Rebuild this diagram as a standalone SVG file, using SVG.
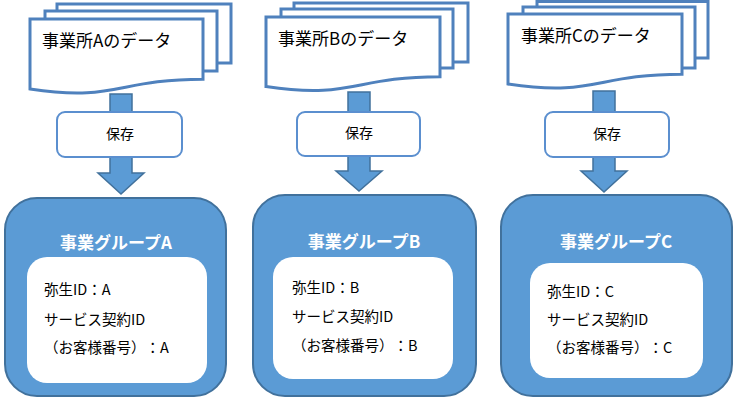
<svg xmlns="http://www.w3.org/2000/svg" width="735" height="400" viewBox="0 0 735 400">
<style>
  .page { fill: #ffffff; stroke: #4f81bd; stroke-width: 3; }
  .save { fill: #ffffff; stroke: #5b8fcf; stroke-width: 2; }
  .arrow { fill: #5b9bd5; stroke: #41719c; stroke-width: 1.5; }
  .group { fill: #5b9bd5; stroke: #41719c; stroke-width: 2; }
  .inner { fill: #ffffff; }
  text { font-family: "Noto Sans CJK JP", "Noto Sans", sans-serif; fill: #000000; text-spacing-trim: space-all; }
  .doc { font-size: 17px; }
  .lbl { font-size: 14px; text-anchor: middle; }
  .title { font-size: 17px; font-weight: bold; fill: #ffffff; text-anchor: middle; }
  .item { font-size: 14.5px; }
</style>
<rect width="735" height="400" fill="#ffffff"/>

<g id="connectors">
  <path class="arrow" d="M110,94 H132 V173 H144 L121,194 L98,173 H110 Z"/>
  <path class="arrow" d="M348,92 H370 V171 H382 L359,191 L336,171 H348 Z"/>
  <path class="arrow" d="M593,91 H615 V171 H627 L604,192 L581,171 H593 Z"/>
</g>

<g id="docA">
  <rect class="page" x="57" y="4" width="174" height="59"/>
  <rect class="page" x="45" y="11" width="172" height="60"/>
  <path class="page" d="M30,19 H203 V79.2 C116.5,79.2 116.5,102 30,89 Z"/>
  <text class="doc" x="42" y="47">事業所Aのデータ</text>
</g>
<g id="docB">
  <rect class="page" x="294" y="3" width="174" height="59"/>
  <rect class="page" x="281" y="9" width="172" height="59"/>
  <path class="page" d="M266,17 H440 V76.7 C353,76.7 353,99.5 266,86.6 Z"/>
  <text class="doc" x="278" y="45">事業所Bのデータ</text>
</g>
<g id="docC">
  <rect class="page" x="537" y="1.5" width="171" height="56.5"/>
  <rect class="page" x="523" y="7" width="172" height="61"/>
  <path class="page" d="M508,14 H682 V74.2 C595,74.2 595,97 508,84 Z"/>
  <text class="doc" x="521" y="42">事業所Cのデータ</text>
</g>

<g id="saveA">
  <rect class="save" x="57" y="112" width="125" height="45" rx="8"/>
  <text class="lbl" x="120" y="139">保存</text>
</g>
<g id="saveB">
  <rect class="save" x="297" y="112" width="123" height="44" rx="8"/>
  <text class="lbl" x="359" y="138">保存</text>
</g>
<g id="saveC">
  <rect class="save" x="545" y="112" width="124" height="45" rx="8"/>
  <text class="lbl" x="607" y="139">保存</text>
</g>

<g id="groupA">
  <rect class="group" x="5" y="198" width="221" height="198" rx="32"/>
  <text class="title" x="116" y="249">事業グループA</text>
  <rect class="inner" x="27" y="257" width="180" height="126" rx="20"/>
  <text class="item" x="44" y="295">弥生ID：A</text>
  <text class="item" x="44" y="325">サービス契約ID</text>
  <text class="item" x="44" y="353">（お客様番号）：A</text>
</g>
<g id="groupB">
  <rect class="group" x="253" y="195" width="223" height="201" rx="32"/>
  <text class="title" x="364" y="248">事業グループB</text>
  <rect class="inner" x="273" y="257" width="180" height="122" rx="20"/>
  <text class="item" x="292" y="293">弥生ID：B</text>
  <text class="item" x="292" y="322">サービス契約ID</text>
  <text class="item" x="292" y="351">（お客様番号）：B</text>
</g>
<g id="groupC">
  <rect class="group" x="501" y="195" width="231" height="201" rx="32"/>
  <text class="title" x="616" y="248">事業グループC</text>
  <rect class="inner" x="530" y="263" width="173" height="115" rx="20"/>
  <text class="item" x="547" y="297">弥生ID：C</text>
  <text class="item" x="547" y="325">サービス契約ID</text>
  <text class="item" x="547" y="353">（お客様番号）：C</text>
</g>
</svg>
